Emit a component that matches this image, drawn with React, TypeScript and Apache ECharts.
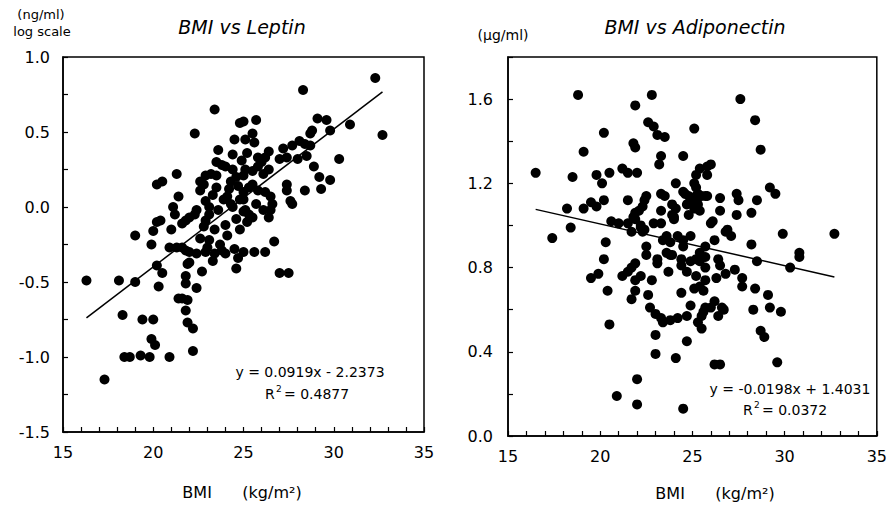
import React, { useEffect, useRef } from "react";
import * as echarts from "echarts";

// BMI (kg/m2) vs log leptin (ng/ml)
const leptinPoints: [number, number][] = [
  [16.3,-0.49],[17.3,-1.15],[18.1,-0.49],[18.3,-0.72],[18.4,-1.0],[18.7,-1.0],[19.0,-0.50],[19.0,-0.19],[19.3,-0.99],[19.4,-0.75],
  [19.8,-1.0],[19.9,-0.88],[20.0,-0.75],[20.1,-0.92],[19.9,-0.25],[20.0,-0.16],[20.2,-0.39],[20.5,-0.44],[20.3,-0.53],[20.9,-1.0],
  [20.2,-0.10],[20.4,-0.09],[20.2,0.15],[20.5,0.17],[21.1,0.0],[21.2,-0.05],[21.3,0.22],[21.4,0.07],[20.9,-0.27],[21.3,-0.27],
  [21.6,-0.27],[21.8,-0.29],[22.0,-0.30],[22.4,-0.31],[22.9,-0.30],[21.9,-0.38],[22.0,-0.37],[22.7,-0.43],[21.8,-0.46],[21.8,-0.51],
  [22.4,-0.54],[21.4,-0.61],[21.6,-0.61],[21.9,-0.62],[21.8,-0.69],[21.9,-0.77],[22.2,-0.81],[22.2,-0.96],[23.3,-0.36],[23.8,-0.29],
  [24.0,-0.31],[24.7,-0.34],[24.6,-0.41],[25.6,-0.30],[26.2,-0.30],[27.0,-0.44],[27.5,-0.44],[21.6,-0.11],[21.8,-0.09],[22.0,-0.07],
  [22.3,-0.05],[22.4,-0.02],[22.6,-0.21],[22.8,-0.13],[22.9,-0.09],[23.1,-0.05],[23.1,-0.22],[23.1,0.0],[23.7,-0.25],[24.1,-0.19],
  [24.6,-0.08],[26.7,-0.23],[22.3,0.49],[23.4,0.65],[24.8,0.56],[24.5,0.45],[25.1,0.45],[25.5,0.49],[25.6,0.43],[25.7,0.58],
  [25.0,0.57],[23.6,0.38],[24.4,0.35],[23.5,0.30],[23.8,0.28],[24.0,0.27],[22.6,0.17],[22.8,0.15],[22.9,0.21],[23.2,0.22],
  [23.5,0.21],[23.5,0.13],[24.3,0.17],[24.6,0.20],[22.6,0.11],[23.9,0.05],[24.1,0.07],[24.3,0.02],[24.8,0.05],[24.4,0.00],
  [25.0,-0.03],[25.3,-0.05],[25.0,0.05],[25.1,-0.02],[25.5,-0.07],[25.7,0.02],[26.1,-0.02],[26.2,0.10],[26.5,0.07],[26.6,0.02],
  [26.5,-0.02],[26.4,-0.07],[25.5,0.15],[25.8,0.11],[25.3,0.13],[25.0,0.10],[25.1,0.25],[25.0,0.21],[25.5,0.24],[25.8,0.27],
  [26.1,0.22],[26.4,0.25],[25.8,0.33],[26.0,0.30],[26.2,0.33],[26.4,0.37],[27.0,0.32],[27.4,0.33],[27.2,0.39],[27.7,0.41],
  [28.0,0.32],[28.5,0.34],[28.1,0.44],[28.4,0.42],[28.7,0.41],[28.7,0.49],[28.8,0.51],[29.1,0.59],[29.6,0.58],[29.8,0.51],
  [30.9,0.55],[30.3,0.32],[28.9,0.27],[29.2,0.20],[29.3,0.12],[29.8,0.18],[27.4,0.15],[27.4,0.11],[28.4,0.11],[27.6,0.04],
  [27.7,0.02],[28.3,0.78],[32.3,0.86],[32.7,0.48],[24.2,0.12],[24.7,0.14],[23.3,0.08],[22.9,0.04],[23.6,-0.02],[24.0,-0.12],
  [23.4,-0.15],[24.8,-0.15],[25.2,-0.10],[24.4,0.25],[24.9,0.31],[25.2,0.36],[23.0,-0.27],[23.4,-0.31],[24.5,-0.28],[25.0,-0.30],
  [21.0,-0.15]
];

// BMI (kg/m2) vs adiponectin (ug/ml)
const adipoPoints: [number, number][] = [
  [16.5,1.25],[17.4,0.94],[18.2,1.08],[18.4,0.99],[18.5,1.23],[18.8,1.62],[19.1,1.35],[19.1,1.08],[19.5,1.11],[19.8,1.09],
  [19.8,1.24],[20.1,1.20],[20.2,1.44],[20.2,1.12],[20.3,0.92],[20.5,1.25],[20.6,1.02],[21.0,1.01],[21.5,1.01],[21.2,1.27],
  [21.5,1.25],[21.5,1.12],[21.7,0.97],[21.8,1.39],[21.9,1.37],[21.9,1.57],[22.0,1.25],[21.9,1.06],[22.1,1.07],[22.3,1.09],
  [21.9,1.03],[22.2,0.99],[22.3,0.97],[22.4,1.12],[22.5,1.14],[22.5,0.90],[22.6,1.49],[22.8,1.62],[22.9,1.47],[23.1,1.43],
  [23.5,1.42],[23.3,1.33],[23.2,1.29],[22.9,1.01],[23.3,1.01],[23.3,1.07],[23.3,1.15],[23.5,1.14],[23.4,0.93],[23.6,0.95],
  [23.8,0.92],[23.9,1.05],[23.9,1.10],[24.1,1.08],[24.0,1.03],[24.1,1.20],[24.2,0.95],[24.5,0.93],[24.5,0.90],[24.9,0.95],
  [24.5,1.33],[24.6,1.15],[24.8,1.14],[25.0,1.12],[24.8,1.05],[25.1,1.46],[25.2,1.24],[25.4,1.27],[25.8,1.28],[26.0,1.29],
  [25.8,1.24],[25.1,1.20],[25.2,1.18],[25.2,1.14],[25.5,1.14],[25.8,1.14],[25.2,1.11],[25.4,1.07],[25.7,0.90],[26.0,1.01],
  [26.1,1.02],[26.2,0.93],[26.5,1.13],[26.5,1.07],[26.9,0.98],[27.1,0.95],[26.8,0.97],[27.4,1.15],[27.5,1.12],[27.4,1.05],
  [27.6,1.60],[28.2,1.06],[28.2,0.91],[28.4,1.50],[28.5,1.12],[28.7,1.36],[29.2,1.18],[29.5,1.15],[29.9,0.96],[30.8,0.87],
  [32.7,0.96],[24.5,1.16],[24.7,1.10],[24.0,1.04],[22.2,1.00],[22.4,0.98],[21.8,1.04],[25.3,1.15],[25.7,1.14],[25.1,1.13],
  [25.3,1.10],[25.1,1.08],
  [19.5,0.75],[19.9,0.77],[20.2,0.84],[20.4,0.69],[20.5,0.53],[21.2,0.76],[21.5,0.78],[21.7,0.80],[21.9,0.82],[21.9,0.74],
  [22.2,0.76],[21.9,0.69],[21.7,0.65],[22.5,0.86],[23.1,0.84],[23.1,0.82],[23.7,0.78],[22.6,0.67],[22.8,0.74],[24.4,0.84],
  [24.4,0.81],[23.8,0.86],[24.4,0.68],[24.7,0.78],[24.9,0.83],[25.2,0.84],[25.4,0.83],[25.7,0.80],[25.7,0.85],[25.2,0.76],
  [25.4,0.71],[25.6,0.69],[25.7,0.74],[25.1,0.70],[26.4,0.84],[26.5,0.81],[26.3,0.75],[26.8,0.77],[27.3,0.79],[27.7,0.75],
  [27.7,0.71],[28.4,0.70],[29.1,0.67],[28.3,0.60],[29.2,0.61],[29.8,0.59],[28.7,0.50],[28.9,0.47],[29.6,0.35],[28.5,0.83],
  [30.3,0.80],[30.8,0.85],[22.7,0.61],[23.0,0.58],[23.3,0.56],[23.4,0.54],[23.8,0.55],[24.2,0.56],[24.7,0.57],[24.9,0.62],
  [25.3,0.54],[25.5,0.51],[25.5,0.57],[25.7,0.61],[26.0,0.61],[26.2,0.64],[26.4,0.57],[26.7,0.60],[23.0,0.48],[23.0,0.39],
  [24.7,0.45],[24.1,0.37],[26.2,0.34],[26.5,0.34],[22.0,0.27],[20.9,0.19],[22.0,0.15],[24.5,0.13],[23.6,0.87],[23.9,0.86],
  [25.4,0.87],[25.6,0.59],[26.6,0.61]
];

// Regression lines: slope, intercept, drawn over [xStart, xEnd]
const leptinFit = { slope: 0.0919, intercept: -2.2373, range: [16.3, 32.7] };
const adipoFit = { slope: -0.0198, intercept: 1.4031, range: [16.5, 32.7] };

const titles = ["BMI vs Leptin", "BMI vs Adiponectin"];
const xAxisName = "BMI      (kg/m\u00B2)";

const FONT = "DejaVu Sans";

function fitLine(f: { slope: number; intercept: number; range: number[] }) {
  return f.range.map((x) => [x, f.slope * x + f.intercept]);
}

function isMultiple(v: number, step: number) {
  const r = v / step;
  return Math.abs(r - Math.round(r)) < 1e-6;
}

export default function App() {
  const ref = useRef<HTMLDivElement>(null);
  useEffect(() => {
    if (!ref.current) return;
    const chart = echarts.init(ref.current, undefined, { renderer: "svg" });
    const axisLine = { show: true, onZero: false, lineStyle: { color: "#000", width: 1.5 } };
    const tick = { show: true, inside: true, length: 5, lineStyle: { color: "#000", width: 1.2 } };
    const label = { color: "#000", fontFamily: FONT, fontSize: 16 };
    const xAxisBase = (gridIndex: number) => ({
      type: "value",
      gridIndex,
      min: 15,
      max: 35,
      interval: 1,
      axisLine,
      axisTick: tick,
      splitLine: { show: false },
      axisLabel: {
        ...label,
        margin: 12,
        formatter: (v: number) => (isMultiple(v, 5) ? String(v) : ""),
      },
    });
    const text = (x: number, y: number, t: string, size: number, extra: any = {}) => ({
      type: "text",
      x,
      y,
      style: { text: t, fill: "#000", font: `${extra.fontStyle || "normal"} ${size}px "${FONT}"`, textAlign: extra.align || "left", textVerticalAlign: "middle" },
    });
    chart.setOption({
      animation: false,
      grid: [
        { left: 63, top: 57, width: 361, height: 375, show: true, borderColor: "#000", borderWidth: 1.5, backgroundColor: "transparent" },
        { left: 508, top: 57, width: 372, height: 379, show: true, borderColor: "#000", borderWidth: 1.5, backgroundColor: "transparent" },
      ],
      xAxis: [xAxisBase(0), xAxisBase(1)],
      yAxis: [
        {
          type: "value",
          gridIndex: 0,
          min: -1.5,
          max: 1.0,
          interval: 0.25,
          axisLine,
          axisTick: tick,
          splitLine: { show: false },
          axisLabel: { ...label, margin: 13, formatter: (v: number) => (isMultiple(v, 0.5) ? v.toFixed(1) : "") },
        },
        {
          type: "value",
          gridIndex: 1,
          min: 0,
          max: 1.8,
          interval: 0.2,
          axisLine,
          axisTick: tick,
          splitLine: { show: false },
          axisLabel: { ...label, margin: 15, formatter: (v: number) => (isMultiple(v, 0.4) && v < 1.7 ? v.toFixed(1) : "") },
        },
      ],
      series: [
        { type: "scatter", xAxisIndex: 0, yAxisIndex: 0, data: leptinPoints, symbolSize: 10, itemStyle: { color: "#000", opacity: 1 } },
        { type: "line", xAxisIndex: 0, yAxisIndex: 0, data: fitLine(leptinFit), showSymbol: false, lineStyle: { color: "#000", width: 1.5 } },
        { type: "scatter", xAxisIndex: 1, yAxisIndex: 1, data: adipoPoints, symbolSize: 10, itemStyle: { color: "#000", opacity: 1 } },
        { type: "line", xAxisIndex: 1, yAxisIndex: 1, data: fitLine(adipoFit), showSymbol: false, lineStyle: { color: "#000", width: 1.5 } },
      ],
      graphic: [
        text(41, 14, "(ng/ml)", 13, { align: "center" }),
        text(42, 31, "log scale", 13, { align: "center" }),
        text(242, 27, titles[0], 19, { align: "center", fontStyle: "italic" }),
        text(242, 492, xAxisName, 16, { align: "center" }),
        text(310, 372, "y = 0.0919x - 2.2373", 14, { align: "center" }),
        text(265, 394, "R", 14),
        text(276, 389, "2", 9),
        text(284, 394, "= 0.4877", 14),
        text(503, 35, "(\u03BCg/ml)", 14, { align: "center" }),
        text(695, 27, titles[1], 19, { align: "center", fontStyle: "italic" }),
        text(715, 493, xAxisName, 16, { align: "center" }),
        text(790, 389, "y = -0.0198x + 1.4031", 14, { align: "center" }),
        text(743, 410, "R", 14),
        text(754, 405, "2", 9),
        text(762, 410, "= 0.0372", 14),
      ],
    });
    return () => chart.dispose();
  }, []);
  return <div ref={ref} style={{ position: "fixed", left: 0, top: 0, width: 890, height: 506, background: "#fff" }} />;
}
